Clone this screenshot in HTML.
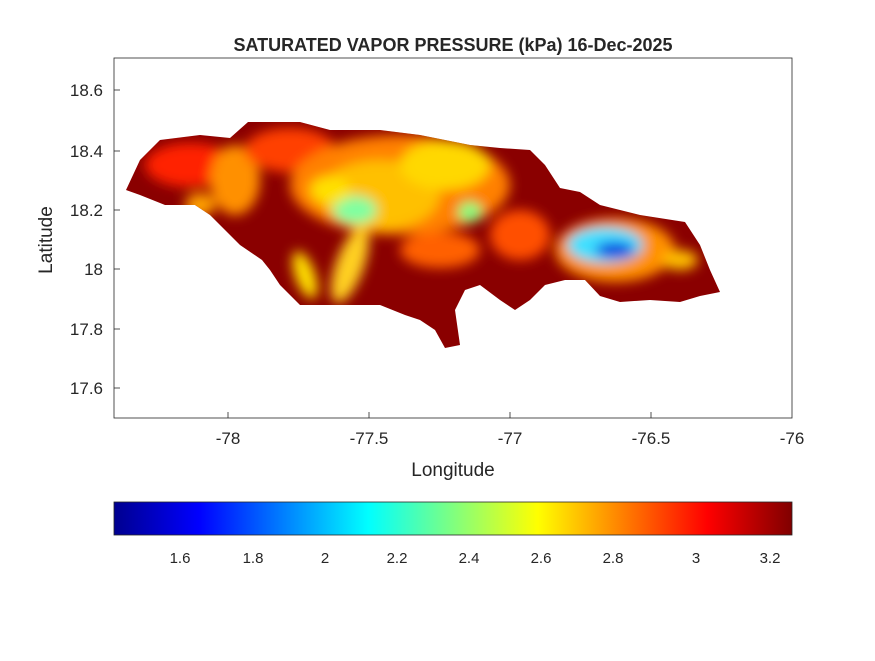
<!DOCTYPE html>
<html><head><meta charset="utf-8"><style>
body{margin:0;background:#fff;}
svg text{font-family:"Liberation Sans",sans-serif;fill:#262626;}
</style></head><body>
<svg width="875" height="656" viewBox="0 0 875 656" xmlns="http://www.w3.org/2000/svg">
<defs>
<clipPath id="isl"><path d="M126,190 L140,160 L160,140 L200,135 L230,138 L248,122 L300,122 L330,130 L380,130 L420,135 L470,145 L500,148 L530,150 L545,165 L560,188 L580,192 L600,205 L640,215 L685,222 L700,245 L710,270 L720,292 L700,296 L680,302 L650,300 L620,302 L600,296 L585,280 L565,280 L545,285 L530,300 L515,310 L500,300 L480,285 L465,290 L455,310 L460,345 L445,348 L435,330 L420,320 L405,315 L380,305 L340,305 L300,305 L290,295 L280,285 L270,270 L262,260 L240,245 L225,230 L210,215 L195,205 L165,205 L140,195 Z"/></clipPath>
<filter id="b" x="-50%" y="-50%" width="200%" height="200%"><feGaussianBlur stdDeviation="6"/></filter>
<linearGradient id="jet" x1="0" x2="1" y1="0" y2="0">
<stop offset="0" stop-color="#00008f"/><stop offset="0.125" stop-color="#0000ff"/><stop offset="0.375" stop-color="#00ffff"/><stop offset="0.625" stop-color="#ffff00"/><stop offset="0.875" stop-color="#ff0000"/><stop offset="1" stop-color="#800000"/>
</linearGradient>
</defs>
<rect x="114" y="58" width="678" height="360" fill="#fff" stroke="#262626" stroke-width="0.8"/>
<g clip-path="url(#isl)">
<rect x="100" y="100" width="650" height="260" fill="#8a0000"/>
<g filter="url(#b)">
<ellipse cx="190" cy="165" rx="45" ry="22" fill="#ff2000"/>
<ellipse cx="235" cy="180" rx="25" ry="35" fill="#ff9000"/>
<ellipse cx="290" cy="150" rx="45" ry="22" fill="#ff4000"/>
<ellipse cx="400" cy="185" rx="110" ry="50" fill="#ff8000"/>
<ellipse cx="380" cy="195" rx="60" ry="35" fill="#ffc000"/>
<ellipse cx="445" cy="165" rx="45" ry="25" fill="#ffd800"/>
<ellipse cx="355" cy="210" rx="22" ry="14" fill="#80ffa0"/>
<ellipse cx="330" cy="190" rx="20" ry="14" fill="#ffe000"/>
<ellipse cx="470" cy="212" rx="12" ry="10" fill="#80ff80"/>
<ellipse cx="350" cy="265" rx="14" ry="40" fill="#ffd020" transform="rotate(20 350 265)"/>
<ellipse cx="305" cy="275" rx="10" ry="25" fill="#ffe000" transform="rotate(-20 305 275)"/>
<ellipse cx="440" cy="250" rx="40" ry="18" fill="#ff6000"/>
<ellipse cx="520" cy="235" rx="30" ry="25" fill="#ff5000"/>
<ellipse cx="200" cy="205" rx="15" ry="12" fill="#ffa000"/>
<ellipse cx="615" cy="250" rx="60" ry="32" fill="#ff9000"/>
<ellipse cx="605" cy="245" rx="38" ry="18" fill="#40e0ff"/>
<ellipse cx="615" cy="250" rx="20" ry="8" fill="#0030e0"/>
<ellipse cx="680" cy="260" rx="18" ry="10" fill="#ffc000"/>
</g>
</g>
<text x="453" y="51" font-size="18" font-weight="bold" text-anchor="middle" fill="#000">SATURATED VAPOR PRESSURE (kPa) 16-Dec-2025</text>
<g font-size="17" text-anchor="end">
<text x="103" y="96">18.6</text><text x="103" y="157">18.4</text><text x="103" y="216">18.2</text><text x="103" y="275">18</text><text x="103" y="335">17.8</text><text x="103" y="394">17.6</text>
</g>
<g stroke="#262626" stroke-width="0.8">
<line x1="114" y1="90" x2="120" y2="90"/><line x1="114" y1="151" x2="120" y2="151"/><line x1="114" y1="210" x2="120" y2="210"/><line x1="114" y1="269" x2="120" y2="269"/><line x1="114" y1="329" x2="120" y2="329"/><line x1="114" y1="388" x2="120" y2="388"/>
<line x1="228" y1="418" x2="228" y2="412"/><line x1="369" y1="418" x2="369" y2="412"/><line x1="510" y1="418" x2="510" y2="412"/><line x1="651" y1="418" x2="651" y2="412"/>
</g>
<g font-size="17" text-anchor="middle">
<text x="228" y="444">-78</text><text x="369" y="444">-77.5</text><text x="510" y="444">-77</text><text x="651" y="444">-76.5</text><text x="792" y="444">-76</text>
</g>
<text x="453" y="476" font-size="19" text-anchor="middle">Longitude</text>
<text transform="translate(52,240) rotate(-90)" font-size="19" text-anchor="middle">Latitude</text>
<rect x="114" y="502" width="678" height="33" fill="url(#jet)" stroke="#262626" stroke-width="0.8"/>
<g font-size="15" text-anchor="middle">
<text x="180" y="563">1.6</text><text x="253" y="563">1.8</text><text x="325" y="563">2</text><text x="397" y="563">2.2</text><text x="469" y="563">2.4</text><text x="541" y="563">2.6</text><text x="613" y="563">2.8</text><text x="696" y="563">3</text><text x="770" y="563">3.2</text>
</g>
</svg>
</body></html>
